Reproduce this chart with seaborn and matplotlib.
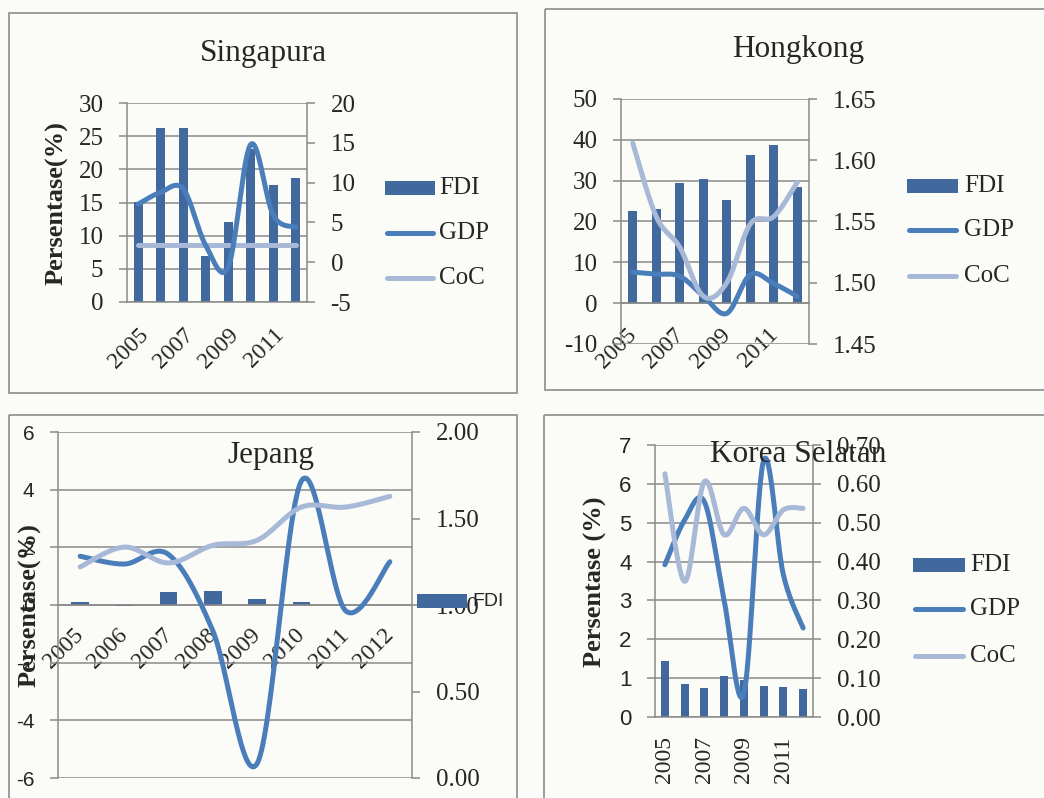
import numpy as np
import matplotlib
matplotlib.use("Agg")
import matplotlib.pyplot as plt
import seaborn as sns
from matplotlib.patches import Rectangle

sns.set_style("white")
plt.rcParams["font.family"] = ["Liberation Serif", "DejaVu Serif"]

# ---------------------------------------------------------------- data
years = ["2005", "2006", "2007", "2008", "2009", "2010", "2011", "2012"]

sg_fdi = [15.1, 26.3, 26.2, 7.0, 12.1, 23.0, 17.6, 18.7]
sg_gdp = [7.3, 8.8, 9.2, 2.1, -0.6, 14.8, 5.9, 4.4]
sg_coc = [2.1, 2.1, 2.1, 2.1, 2.1, 2.1, 2.1, 2.1]

hk_fdi = [22.5, 23.1, 29.4, 30.5, 25.2, 36.2, 38.7, 28.5]
hk_gdp = [7.6, 7.1, 6.6, 1.8, -2.5, 7.0, 4.8, 1.7]
hk_coc = [1.614, 1.554, 1.529, 1.489, 1.500, 1.548, 1.554, 1.582]

jp_fdi = [0.09, -0.05, 0.46, 0.47, 0.22, 0.12, 0.0, 0.0]
jp_gdp = [1.69, 1.42, 1.75, -0.9, -5.5, 4.3, -0.2, 1.5]
jp_coc = [1.22, 1.335, 1.243, 1.345, 1.374, 1.566, 1.566, 1.628]

kr_fdi = [1.45, 0.86, 0.74, 1.06, 0.95, 0.81, 0.77, 0.72]
kr_gdp = [3.92, 5.07, 5.54, 3.0, 0.6, 6.6, 3.66, 2.29]
kr_coc = [0.626, 0.349, 0.606, 0.469, 0.537, 0.469, 0.533, 0.537]

# ---------------------------------------------------------------- style
W, H = 1044, 798
BG = "#FBFBF7"
BAR = "#41699E"
GDP = "#4A7EBB"
COC = "#A7B9D6"
AXC = "#8A8A8A"
SERIF = ["Liberation Serif", "DejaVu Serif"]
SANS = ["Liberation Sans", "DejaVu Sans"]


def rect(l, t, r, b):
    return [l / W, 1 - b / H, (r - l) / W, (b - t) / H]


def smooth(vals, n=30):
    """Bezier smoothing through the category points (spreadsheet style)."""
    y = np.asarray(vals, float)
    x = np.arange(len(y), dtype=float)
    P = np.column_stack([x, y])
    out = []
    for i in range(len(y) - 1):
        p0 = P[max(i - 1, 0)]
        p1, p2 = P[i], P[i + 1]
        p3 = P[min(i + 2, len(y) - 1)]
        c1 = p1 + (p2 - p0) / 6
        c2 = p2 - (p3 - p1) / 6
        t = np.linspace(0, 1, n, endpoint=(i == len(y) - 2))[:, None]
        seg = (1 - t) ** 3 * p1 + 3 * (1 - t) ** 2 * t * c1 + 3 * (1 - t) * t ** 2 * c2 + t ** 3 * p2
        out.append(seg)
    S = np.vstack(out)
    return S[:, 0], S[:, 1]


def draw_line(ax, vals, color):
    sx, sy = smooth(vals)
    sns.lineplot(x=sx, y=sy, ax=ax, color=color, lw=3.6, sort=False,
                 estimator=None, zorder=4, solid_capstyle="round")


def style(ax, ax2, ylim, yticks, ylim2, yticks2, rfmt, lab_idx, rot,
          left_family, left_size, xpad, lab_shift=0.0):
    ax.set_xlim(-0.5, 7.5)
    ax.set_ylim(*ylim)
    ax.set_yticks(yticks)
    ax.set_yticklabels([f"{v:g}" for v in yticks])
    ax2.set_ylim(*ylim2)
    ax2.set_yticks(yticks2)
    ax2.set_yticklabels([rfmt.format(v) for v in yticks2])
    ax.set_xlabel("")
    ax.set_ylabel("")
    ax2.set_xlabel("")
    ax2.set_ylabel("")
    ax.set_facecolor(BG)
    ax.grid(False)
    ax.yaxis.grid(True, color=AXC, lw=1.1)
    ax.set_axisbelow(True)
    for s in ("top", "right"):
        ax.spines[s].set_visible(False)
    for s in ("top", "left", "bottom"):
        ax2.spines[s].set_visible(False)
    ax.spines["left"].set_color(AXC)
    ax.spines["left"].set_linewidth(1.1)
    ax.spines["bottom"].set_color(AXC)
    ax.spines["bottom"].set_linewidth(1.1)
    ax.spines["bottom"].set_position(("data", 0))
    ax2.spines["right"].set_color(AXC)
    ax2.spines["right"].set_linewidth(1.1)

    # year labels sit on zero-length major ticks; category boundaries get the
    # visible minor tick marks
    ax.set_xticks([i + lab_shift for i in lab_idx])
    ax.set_xticklabels([years[i] for i in lab_idx])
    ax.set_xticks(np.arange(-0.5, 8, 1), minor=True)
    ax.tick_params(axis="x", which="major", length=0, pad=xpad, labelsize=17)
    ax.tick_params(axis="x", which="minor", length=6, width=1.1, color=AXC,
                   direction="out")
    for lbl in ax.get_xticklabels():
        lbl.set_fontfamily(SERIF)
        if rot == 45:
            lbl.set_rotation(45)
            lbl.set_ha("right")
            lbl.set_va("top")
            lbl.set_rotation_mode("anchor")
        else:
            lbl.set_rotation(90)
            lbl.set_ha("center")
            lbl.set_va("top")
    ax.tick_params(axis="y", length=6, width=1.1, color=AXC, direction="out",
                   pad=11, labelsize=left_size)
    for lbl in ax.get_yticklabels():
        lbl.set_fontfamily(left_family)
    ax2.tick_params(axis="y", length=6, width=1.1, color=AXC, direction="out",
                    pad=11, labelsize=18)
    for lbl in ax2.get_yticklabels():
        lbl.set_fontfamily(SERIF)


fig = plt.figure(figsize=(W / 100, H / 100), dpi=100, facecolor=BG)

# ---------------------------------------------------------------- Singapura
ax = fig.add_axes(rect(127, 103, 307, 302))
ax2 = ax.twinx()
sns.barplot(x=years, y=sg_fdi, ax=ax, color=BAR, saturation=1, width=0.4,
            linewidth=0, zorder=2)
draw_line(ax2, sg_coc, COC)
draw_line(ax2, sg_gdp, GDP)
style(ax, ax2, (0, 30), np.arange(0, 31, 5), (-5, 20), np.arange(-5, 21, 5),
      "{:g}", [0, 2, 4, 6], 45, SERIF, 18, 16)

# ---------------------------------------------------------------- Hongkong
ax = fig.add_axes(rect(621, 99, 809, 344))
ax2 = ax.twinx()
sns.barplot(x=years, y=hk_fdi, ax=ax, color=BAR, saturation=1, width=0.4,
            linewidth=0, zorder=2)
draw_line(ax, hk_gdp, GDP)
draw_line(ax2, hk_coc, COC)
style(ax, ax2, (-10, 50), np.arange(-10, 51, 10), (1.45, 1.65),
      [1.45, 1.50, 1.55, 1.60, 1.65], "{:.2f}", [0, 2, 4, 6], 45, SERIF, 18,
      15, lab_shift=-0.27)

# ---------------------------------------------------------------- Jepang
ax = fig.add_axes(rect(58, 432, 412, 778))
ax2 = ax.twinx()
sns.barplot(x=years, y=jp_fdi, ax=ax, color=BAR, saturation=1, width=0.4,
            linewidth=0, zorder=2)
draw_line(ax, jp_gdp, GDP)
draw_line(ax2, jp_coc, COC)
style(ax, ax2, (-6, 6), np.arange(-6, 7, 2), (0, 2),
      [0, 0.5, 1.0, 1.5, 2.0], "{:.2f}", list(range(8)), 45, SANS, 15, 14,
      lab_shift=-0.16)

# ---------------------------------------------------------------- Korea Selatan
ax = fig.add_axes(rect(655, 445, 813, 717))
ax2 = ax.twinx()
sns.barplot(x=years, y=kr_fdi, ax=ax, color=BAR, saturation=1, width=0.4,
            linewidth=0, zorder=2)
draw_line(ax, kr_gdp, GDP)
draw_line(ax2, kr_coc, COC)
style(ax, ax2, (0, 7), np.arange(0, 8, 1), (0, 0.7),
      [0, 0.1, 0.2, 0.3, 0.4, 0.5, 0.6, 0.7], "{:.2f}", [0, 2, 4, 6], 90,
      SANS, 16, 14)

# ---------------------------------------------------------------- frames, titles, legends
ov = fig.add_axes([0, 0, 1, 1], zorder=10)
ov.set_xlim(0, W)
ov.set_ylim(H, 0)
ov.axis("off")
ov.patch.set_alpha(0)

for (x0, y0, x1, y1) in [(9, 13, 517, 393), (545, 9, 1050, 390),
                         (9, 415, 517, 810), (544, 415, 1050, 810)]:
    ov.add_patch(Rectangle((x0, y0), x1 - x0, y1 - y0, fill=False,
                           ec="#8C8C8C", lw=1.2))

for (x, y, t) in [(263, 53, "Singapura"), (798, 50, "Hongkong"),
                  (271, 455, "Jepang"), (798, 455, "Korea Selatan")]:
    ov.text(x, y, t, ha="center", va="center", fontsize=22.5, fontfamily=SERIF)

for (x, y, t) in [(57, 203, "Persentase(%)"), (30, 605, "Persentase(%)"),
                  (595, 582, "Persentase (%)")]:
    ov.text(x, y, t, ha="center", va="center", rotation=90, fontsize=19,
            fontweight="bold", fontfamily=SERIF)


def legend(x0, x1, xt, ys, size=18, family=SERIF, labels=("FDI", "GDP", "CoC")):
    for lab, y in zip(labels, ys):
        if lab == "FDI":
            ov.add_patch(Rectangle((x0, y - 7), x1 - x0, 14, color=BAR, lw=0))
        else:
            col = GDP if lab == "GDP" else COC
            ov.plot([x0 + 2, x1 - 2], [y, y], color=col, lw=3.6,
                    solid_capstyle="round")
        ov.text(xt, y, lab, ha="left", va="center", fontsize=size,
                fontfamily=family)


legend(385, 435, 439, [188, 233, 278])
legend(907, 958, 964, [186, 230, 276])
legend(913, 965, 970, [565, 609, 656])
legend(417, 467, 472, [601], size=14, family=SANS, labels=("FDI",))

fig.savefig("out.png", dpi=100, facecolor=BG)
